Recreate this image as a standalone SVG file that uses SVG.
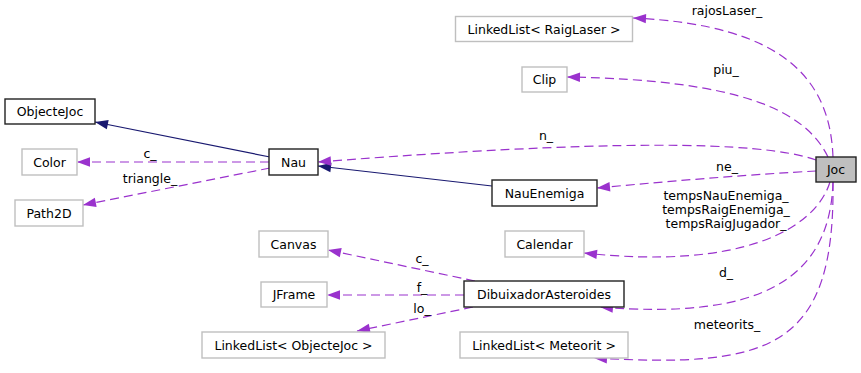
<svg xmlns="http://www.w3.org/2000/svg" width="861" height="373" viewBox="0 0 861 373">
  <style>
    text { font-family: "DejaVu Sans", Verdana, sans-serif; font-size: 12.5px; fill: #000; }
    .node text { text-anchor: middle; }
    .ext rect { fill: #fff; stroke: #bfbfbf; stroke-width: 1.4; }
    .doc rect { fill: #fff; stroke: #222; stroke-width: 1.4; }
    .cur rect { fill: #bfbfbf; stroke: #222; stroke-width: 1.4; }
    .use { fill: none; stroke: #9a32cd; stroke-width: 1.2; stroke-dasharray: 9 5; marker-end: url(#usehead); }
    .inh { fill: none; stroke: #191970; stroke-width: 1.2; marker-end: url(#inhhead); }
    .lbl { text-anchor: middle; }
  </style>
  <defs>
    <marker id="usehead" viewBox="-14 -7 15 14" refX="0" refY="0" markerWidth="15" markerHeight="14" markerUnits="userSpaceOnUse" orient="auto" overflow="visible">
      <path d="M0,0 L-13,-4.7 L-13,4.7 Z" fill="#9a32cd"/>
    </marker>
    <marker id="inhhead" viewBox="-14 -7 15 14" refX="0" refY="0" markerWidth="15" markerHeight="14" markerUnits="userSpaceOnUse" orient="auto" overflow="visible">
      <path d="M0,0 L-13,-4.7 L-13,4.7 Z" fill="#191970"/>
    </marker>
  </defs>
  <rect width="861" height="373" fill="#fff"/>

  <g id="edges">
    <!-- inheritance -->
    <path class="inh" d="M270,157 L95,122"/>
    <path class="inh" d="M492,186 L318,166"/>
    <!-- Nau members -->
    <path class="use" d="M269,162 L77,162"/>
    <path class="use" d="M270,168 L83,205"/>
    <!-- Joc members -->
    <path class="use" d="M833,157 C830,80 785,25 633,18"/>
    <path class="use" d="M828,157 C805,110 740,80 567,77"/>
    <path class="use" d="M816,160 C760,140 600,140 318,162"/>
    <path class="use" d="M816,171 C760,174 680,180 597,188"/>
    <path class="use" d="M830,182 C815,230 740,270 584,253"/>
    <path class="use" d="M833,182 C830,280 760,320 600,307"/>
    <path class="use" d="M833,182 C835,350 770,368 594,358"/>
    <!-- DibuixadorAsteroides members -->
    <path class="use" d="M475,281 L328,250"/>
    <path class="use" d="M464,295 L327,295"/>
    <path class="use" d="M473,307 L357,331"/>

    <text class="lbl" x="727" y="15">rajosLaser_</text>
    <text class="lbl" x="726" y="74">piu_</text>
    <text class="lbl" x="546" y="140">n_</text>
    <text class="lbl" x="727" y="171">ne_</text>
    <text class="lbl" x="726" y="200">tempsNauEnemiga_</text>
    <text class="lbl" x="726" y="214">tempsRaigEnemiga_</text>
    <text class="lbl" x="726" y="228">tempsRaigJugador_</text>
    <text class="lbl" x="726" y="277">d_</text>
    <text class="lbl" x="727" y="329">meteorits_</text>
    <text class="lbl" x="150" y="158">c_</text>
    <text class="lbl" x="150" y="183">triangle_</text>
    <text class="lbl" x="422" y="263">c_</text>
    <text class="lbl" x="422" y="292">f_</text>
    <text class="lbl" x="422" y="313">lo_</text>
  </g>

  <g id="LinkedListRaigLaser" class="node ext"><rect x="455.5" y="16.5" width="177" height="25"/><text x="544" y="33.5">LinkedList&lt; RaigLaser &gt;</text></g>
  <g id="Clip" class="node ext"><rect x="522" y="67" width="45" height="25"/><text x="544.5" y="84">Clip</text></g>
  <g id="ObjecteJoc" class="node doc"><rect x="5" y="99" width="90" height="25"/><text x="50" y="116">ObjecteJoc</text></g>
  <g id="Color" class="node ext"><rect x="22" y="149" width="55" height="26"/><text x="49.5" y="166.5">Color</text></g>
  <g id="Nau" class="node doc"><rect x="269" y="149" width="49" height="26"/><text x="293.5" y="166.5">Nau</text></g>
  <g id="Path2D" class="node ext"><rect x="15" y="200" width="68" height="26"/><text x="49" y="217.5">Path2D</text></g>
  <g id="NauEnemiga" class="node doc"><rect x="492" y="180" width="105" height="26"/><text x="544.5" y="197.5">NauEnemiga</text></g>
  <g id="Joc" class="node cur"><rect x="816" y="157" width="40" height="25"/><text x="836" y="174">Joc</text></g>
  <g id="Calendar" class="node ext"><rect x="505" y="231" width="79" height="26"/><text x="544.5" y="248.5">Calendar</text></g>
  <g id="Canvas" class="node ext"><rect x="259" y="231" width="69" height="26"/><text x="293.5" y="248.5">Canvas</text></g>
  <g id="JFrame" class="node ext"><rect x="261" y="282" width="66" height="25"/><text x="294" y="299">JFrame</text></g>
  <g id="DibuixadorAsteroides" class="node doc"><rect x="464" y="281" width="160" height="26"/><text x="544" y="298.5">DibuixadorAsteroides</text></g>
  <g id="LinkedListObjecteJoc" class="node ext"><rect x="202" y="332" width="183" height="26"/><text x="293.5" y="349.5">LinkedList&lt; ObjecteJoc &gt;</text></g>
  <g id="LinkedListMeteorit" class="node ext"><rect x="460" y="332" width="168" height="26"/><text x="544" y="349.5">LinkedList&lt; Meteorit &gt;</text></g>
</svg>
